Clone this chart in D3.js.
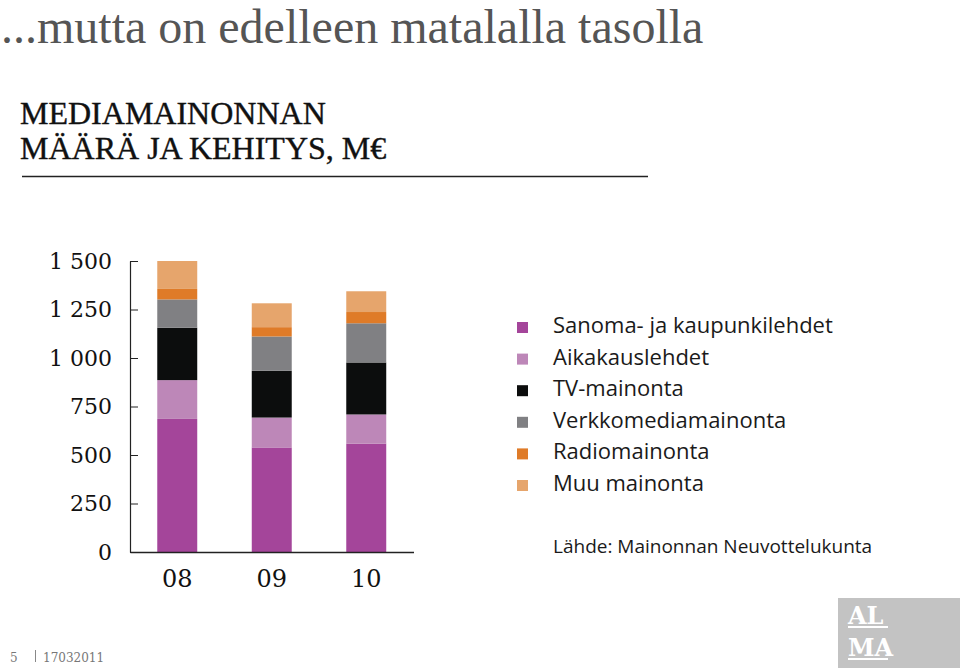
<!DOCTYPE html>
<html>
<head>
<meta charset="utf-8">
<script src="https://cdn.jsdelivr.net/npm/d3@7"></script>
<style>
  body { margin: 0; background: #fff; }
  svg { display: block; }
</style>
</head>
<body>
<script>
const width = 960;
const height = 670;

// data (M€)
const years = ["08", "09", "10"];
const seriesNames = ["Sanoma- ja kaupunkilehdet", "Aikakauslehdet", "TV-mainonta",
                     "Verkkomediamainonta", "Radiomainonta", "Muu mainonta"];
const sanoma = [686, 539, 559];
const aikakaus = [200, 154, 150];
const tv = [270, 241, 268];
const verkko = [146, 177, 202];
const radio = [54, 48, 58];
const muu = [144, 123, 107];
const tickValues = [0, 250, 500, 750, 1000, 1250, 1500];
const tickLabels = ["0", "250", "500", "750", "1 000", "1 250", "1 500"];

const colors = ["#a4459a", "#bd87b8", "#0c0d0d", "#808083", "#df7b28", "#e6a56c"];

const values = [sanoma, aikakaus, tv, verkko, radio, muu];
const rows = years.map((y, i) => {
  let r = { year: y };
  seriesNames.forEach((s, j) => { r[s] = values[j][i]; });
  return r;
});

let svg = d3.select("body")
  .append("svg")
    .attr("width", width)
    .attr("height", height);

// headings
svg.append("text")
  .attr("x", 1).attr("y", 43)
  .style("font-family", "'Liberation Serif', serif")
  .style("font-size", "48px")
  .attr("fill", "#555")
  .text("...mutta on edelleen matalalla tasolla");

svg.append("text")
  .attr("x", 20).attr("y", 124)
  .style("font-family", "'Liberation Serif', serif")
  .style("font-size", "32px")
  .attr("fill", "#111")
  .attr("stroke", "#111")
  .attr("stroke-width", 0.4)
  .text("MEDIAMAINONNAN");

svg.append("text")
  .attr("x", 20).attr("y", 159)
  .style("font-family", "'Liberation Serif', serif")
  .style("font-size", "32px")
  .attr("fill", "#111")
  .attr("stroke", "#111")
  .attr("stroke-width", 0.4)
  .text("MÄÄRÄ JA KEHITYS, M€");

svg.append("line")
  .attr("x1", 22).attr("x2", 648)
  .attr("y1", 176.5).attr("y2", 176.5)
  .attr("stroke", "#222")
  .attr("stroke-width", 1.5);

// scales
let x = d3.scaleBand()
  .domain(years)
  .range([130, 413.5])
  .paddingInner(0.577)
  .paddingOuter(0.2885);

let y = d3.scaleLinear()
  .domain([0, 1500])
  .range([552, 261]);

let stack = d3.stack().keys(seriesNames);
let stacked = stack(rows);

svg.append("g")
  .selectAll("g")
  .data(stacked)
  .enter()
  .append("g")
    .attr("fill", (d, i) => colors[i])
  .selectAll("rect")
  .data(d => d)
  .enter()
  .append("rect")
    .attr("x", d => x(d.data.year))
    .attr("width", x.bandwidth())
    .attr("y", d => y(d[1]))
    .attr("height", d => y(d[0]) - y(d[1]));

// y axis
let yAxis = svg.append("g")
  .attr("transform", "translate(130,0)")
  .call(d3.axisLeft(y)
    .tickValues(tickValues)
    .tickFormat((d, i) => tickLabels[i])
    .tickSizeInner(-8)
    .tickSizeOuter(0)
    .tickPadding(18));

yAxis.select(".domain").attr("stroke", "#222").attr("stroke-width", 1.2);
yAxis.selectAll(".tick line").attr("stroke", "#222");
yAxis.selectAll("text")
  .style("font-family", "'DejaVu Serif', serif")
  .style("font-size", "22px")
  .attr("fill", "#111");

// x axis
let xAxis = svg.append("g")
  .attr("transform", "translate(0,552)")
  .call(d3.axisBottom(x)
    .tickSize(0)
    .tickPadding(18));

xAxis.select(".domain").attr("stroke", "#222").attr("stroke-width", 1.5);
xAxis.selectAll("text")
  .style("font-family", "'DejaVu Serif', serif")
  .style("font-size", "24px")
  .attr("fill", "#111");

// legend
let legend = svg.append("g")
  .attr("transform", "translate(517,322)");

let items = legend.selectAll("g")
  .data(seriesNames)
  .enter()
  .append("g")
    .attr("transform", (d, i) => "translate(0," + (i * 31.6) + ")");

items.append("rect")
  .attr("width", 11).attr("height", 11)
  .attr("fill", (d, i) => colors[i]);

items.append("text")
  .attr("x", 36).attr("y", 11)
  .style("font-family", "'Open Sans', sans-serif")
  .style("font-size", "22px")
  .attr("fill", "#1a1a1a")
  .text(d => d);

svg.append("text")
  .attr("x", 553).attr("y", 553)
  .style("font-family", "'Open Sans', sans-serif")
  .style("font-size", "19px")
  .attr("fill", "#1a1a1a")
  .text("Lähde: Mainonnan Neuvottelukunta");

// footer
svg.append("text")
  .attr("x", 10).attr("y", 662)
  .style("font-family", "'DejaVu Serif', serif")
  .style("font-size", "12px")
  .attr("fill", "#777")
  .text("5");

svg.append("line")
  .attr("x1", 35.5).attr("x2", 35.5)
  .attr("y1", 650).attr("y2", 662)
  .attr("stroke", "#888");

svg.append("text")
  .attr("x", 43).attr("y", 662)
  .style("font-family", "'DejaVu Serif', serif")
  .style("font-size", "12px")
  .attr("fill", "#777")
  .text("17032011");

// logo
let logo = svg.append("g").attr("transform", "translate(838,598)");
logo.append("rect")
  .attr("width", 122).attr("height", 70)
  .attr("fill", "#c3c3c3");
logo.append("text")
  .attr("x", 10).attr("y", 26)
  .style("font-family", "'DejaVu Serif', serif")
  .style("font-weight", "bold")
  .style("font-size", "24px")
  .attr("fill", "#fff")
  .text("AL");
logo.append("text")
  .attr("x", 10).attr("y", 58)
  .style("font-family", "'DejaVu Serif', serif")
  .style("font-weight", "bold")
  .style("font-size", "24px")
  .attr("fill", "#fff")
  .text("MA");
logo.append("line")
  .attr("x1", 10).attr("x2", 50)
  .attr("y1", 29).attr("y2", 29)
  .attr("stroke", "#fff").attr("stroke-width", 2);
logo.append("line")
  .attr("x1", 10).attr("x2", 50)
  .attr("y1", 61).attr("y2", 61)
  .attr("stroke", "#fff").attr("stroke-width", 2);
</script>
</body>
</html>
